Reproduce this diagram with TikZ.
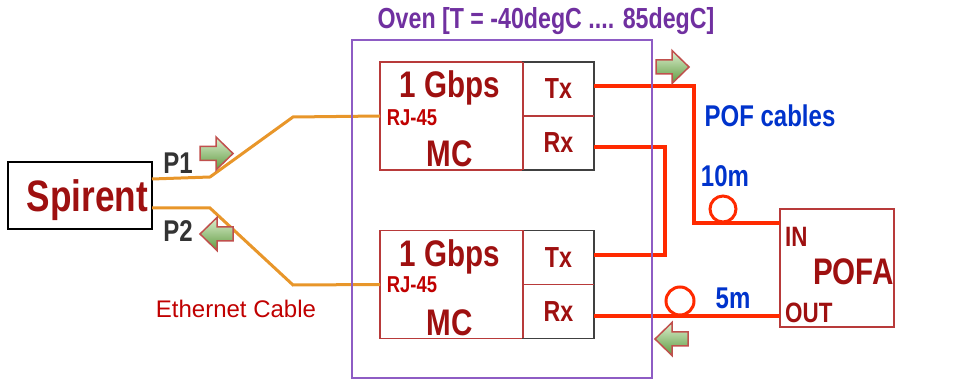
\documentclass[tikz,border=0pt]{standalone}
\usepackage{fontspec}
\setmainfont{Liberation Sans}[FakeStretch=0.8]
\newfontfamily\plainfont{Liberation Sans}
\usetikzlibrary{positioning,calc}
\definecolor{mcred}{HTML}{9E1010}
\definecolor{rjred}{HTML}{C00000}
\definecolor{boxred}{HTML}{B83A3A}
\definecolor{cellgray}{HTML}{404040}
\definecolor{ethorange}{HTML}{E8962A}
\definecolor{pofred}{HTML}{FF2A00}
\definecolor{pofblue}{HTML}{0033CC}
\definecolor{ovenpurple}{HTML}{7030A0}
\definecolor{ovenline}{HTML}{8E5CC4}
\definecolor{portgray}{HTML}{333333}
\definecolor{arrowedge}{HTML}{C0504D}
\definecolor{arrowtop}{HTML}{DDEFCF}
\definecolor{arrowbot}{HTML}{5E9A40}

\tikzset{
  devbox/.style={draw=black, line width=2pt, inner sep=0pt, outer sep=0pt},
  mcbox/.style={draw=boxred, line width=1.5pt, minimum width=143pt,
                minimum height=108pt, inner sep=0pt, outer sep=0pt},
  cell/.style={draw=cellgray, line width=1.5pt, minimum width=71pt,
               minimum height=54pt, inner sep=0pt, outer sep=0pt,
               text=mcred, font=\fontsize{29}{30}\selectfont\bfseries},
  mctext/.style={text=mcred, inner sep=0pt, font=\fontsize{37}{38}\selectfont\bfseries},
  rjtext/.style={text=rjred, inner sep=0pt, font=\fontsize{23}{24}\selectfont\bfseries},
  bluetext/.style={text=pofblue, inner sep=0pt, font=\fontsize{30}{31}\selectfont\bfseries},
  porttext/.style={text=portgray, inner sep=0pt, font=\fontsize{30}{31}\selectfont\bfseries},
  ethcable/.style={draw=ethorange, line width=3pt},
  pofcable/.style={draw=pofred, line width=4pt},
  coil/.style={circle, draw=pofred, line width=3pt, minimum size=26pt, inner sep=0pt},
  arrowfill/.style={draw=arrowedge, line width=1.5pt, line join=miter,
                    top color=arrowtop, bottom color=arrowbot},
  flowarrow/.pic={
    \draw[arrowfill] (0,-7) -- (16,-7) -- (16,-16.5) -- (33,0) -- (16,16.5)
      -- (16,7) -- (0,7) -- cycle;
  }
}

\begin{document}
\begin{tikzpicture}[x=1pt,y=-1pt]
  \useasboundingbox (0,0) rectangle (978,379);

  % Spirent
  \node[devbox, minimum height=67pt, text width=136pt, inner xsep=4pt,
        text depth=0pt, align=right, text=mcred,
        font=\fontsize{44}{45}\selectfont\bfseries]
    (spirent) at (80,195.5) {Spirent};
  \node[porttext] (pone) at (178,163) {P1};
  \node[porttext] (ptwo) at (178,231) {P2};

  % media converters
  \node[mcbox] (mcA) at (451.5,116) {};
  \node[cell, anchor=north west] (txA) at (mcA.north east) {Tx};
  \node[cell, below=0pt of txA] (rxA) {Rx};
  \node[mcbox] (mcB) at (451.5,284.5) {};
  \node[cell, anchor=north west] (txB) at (mcB.north east) {Tx};
  \node[cell, below=0pt of txB] (rxB) {Rx};
  \draw[boxred, line width=1.5pt]
    (txA.north west) -- (rxA.south west) (txA.south west) -- (txA.south east)
    (txB.north west) -- (rxB.south west) (txB.south west) -- (txB.south east);

  \node[mctext] (gbpsA) at (450,88) {1 Gbps};
  \node[rjtext] (rjA) at (412,118) {RJ-45};
  \node[mctext] (mcnameA) at (450,154) {MC};
  \node[mctext] (gbpsB) at (450,257) {1 Gbps};
  \node[rjtext] (rjB) at (412,285) {RJ-45};
  \node[mctext] (mcnameB) at (450,323) {MC};

  % POFA
  \node[draw=boxred, line width=1.5pt, minimum width=114pt, minimum height=118pt,
        inner sep=0pt, outer sep=0pt] (pofa) at (837,268) {};
  \node[mctext, anchor=west, font=\fontsize{28}{29}\selectfont\bfseries]
    (inlbl) at (785,237) {IN};
  \node[mctext, anchor=west] (pofalbl) at (813,272) {POFA};
  \node[mctext, anchor=west, font=\fontsize{28}{29}\selectfont\bfseries]
    (outlbl) at (785,313) {OUT};

  % Ethernet cables
  \draw[ethcable] (spirent.east |- 0,179) -- (210,177) -- (293,117) -- (mcA.west);
  \draw[ethcable] (spirent.east |- 0,208) -- (210,208) -- (293,285) -- (mcB.west);
  \node[text=rjred, inner sep=0pt, font=\plainfont\fontsize{24}{25}\selectfont]
    (ethlbl) at (236,309) {Ethernet Cable};

  % POF cables
  \draw[pofcable] ([yshift=3pt]txA.east) -| (694,223) -- (pofa.west |- 0,223);
  \draw[pofcable] ([yshift=-4pt]rxA.east) -| (665,255) -- (txB.east |- 0,255);
  \draw[pofcable] (pofa.west |- 0,316) -- (rxB.east |- 0,316);
  \node[coil] (coilA) at (723,209) {};
  \node[coil, minimum size=28pt] (coilB) at (680,301) {};
  \node[bluetext] (poflbl) at (770,116) {POF cables};
  \node[bluetext] (tenm) at (725,176) {10m};
  \node[bluetext] (fivem) at (733,298) {5m};

  % Oven
  \node[draw=ovenline, line width=1.5pt, minimum width=300pt, minimum height=338pt,
        inner sep=0pt, outer sep=0pt] (oven) at (502,209) {};
  \node[text=ovenpurple, inner sep=0pt, font=\fontsize{29}{30}\selectfont\bfseries]
    (ovenlbl) at (546,21) {Oven [T = -40degC .... 85degC]};

  % traffic direction
  \pic at (200,153.5) {flowarrow};
  \pic[xscale=-1] at (233,234) {flowarrow};
  \pic at (656,67) {flowarrow};
  \pic[xscale=-1] at (688,339) {flowarrow};
\end{tikzpicture}
\end{document}
